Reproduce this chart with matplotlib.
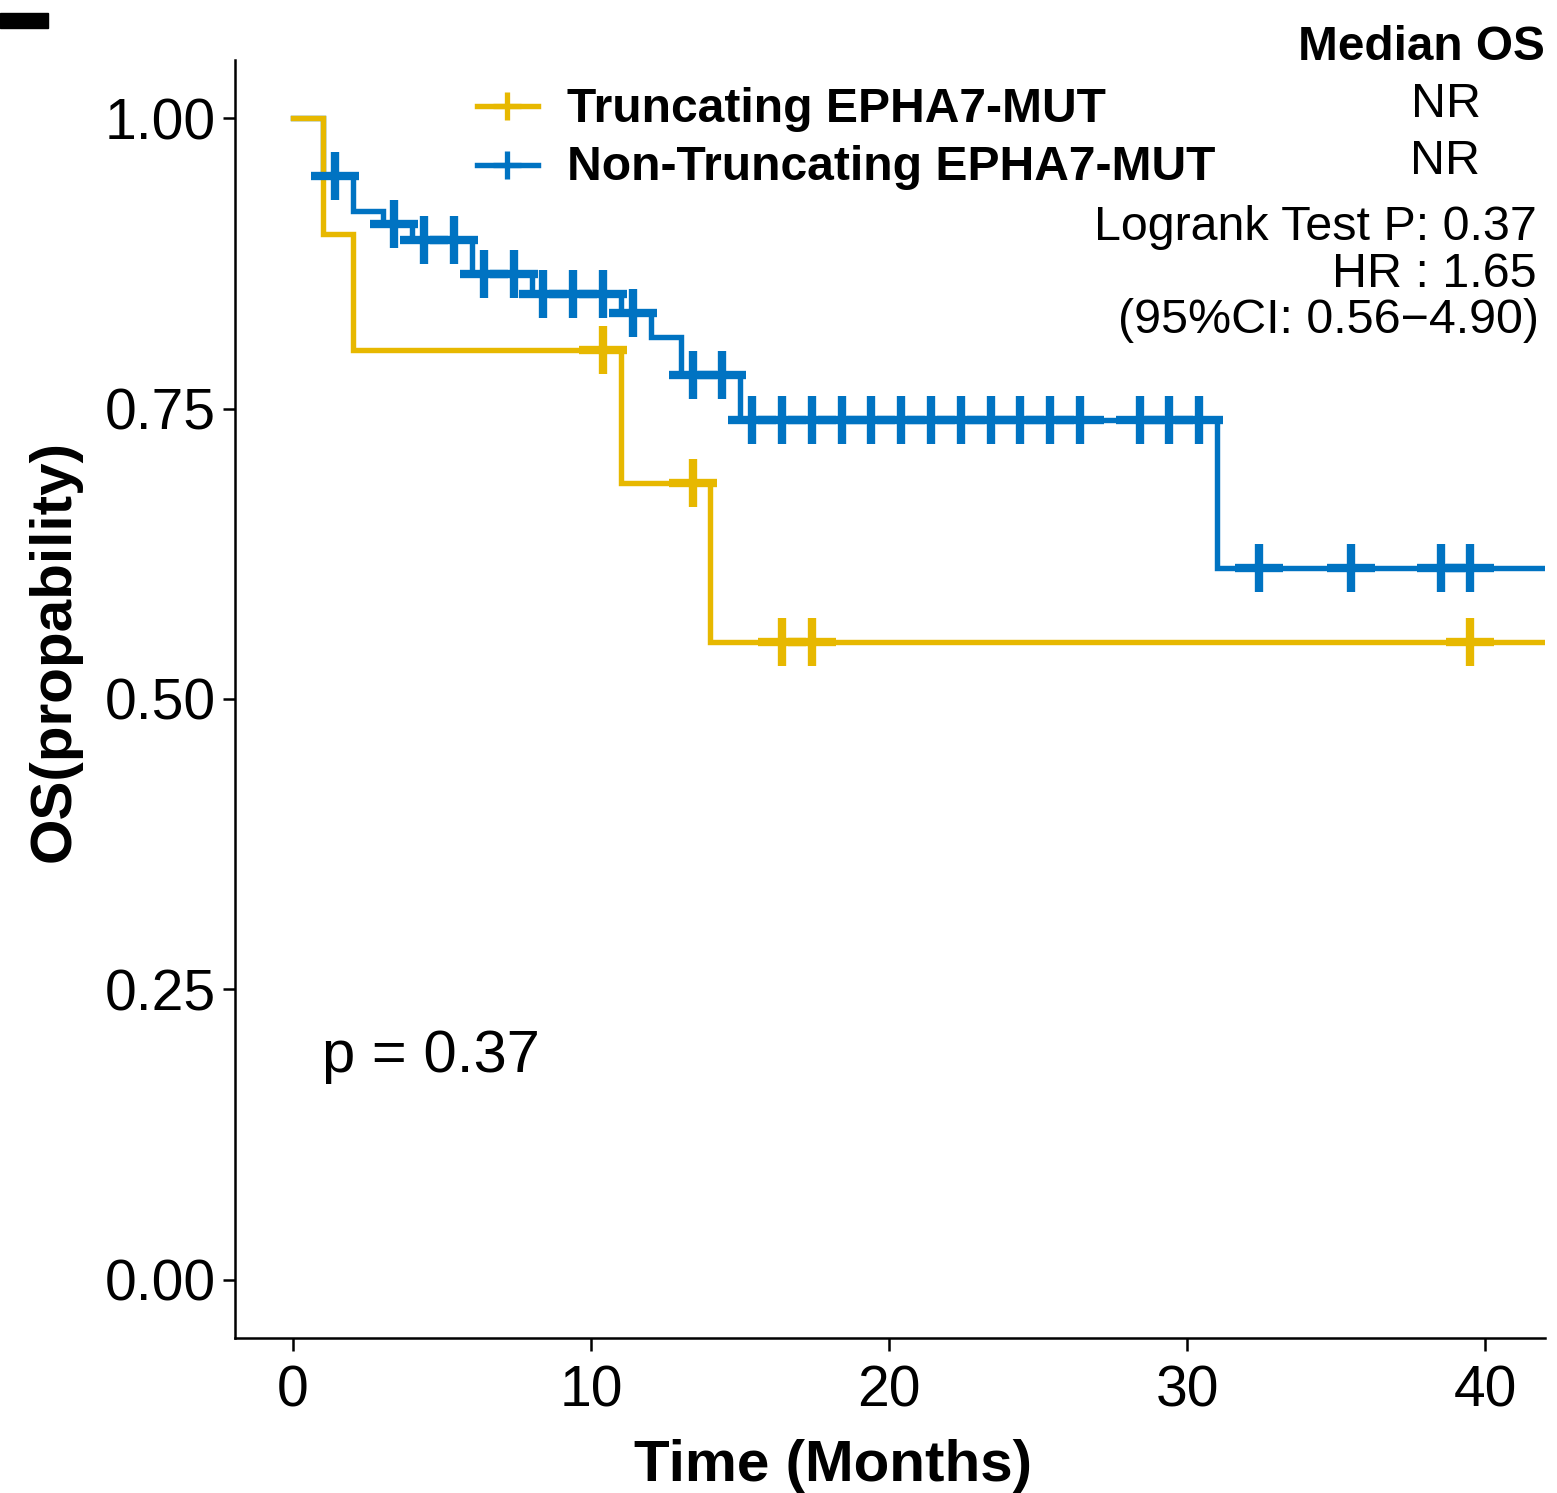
import numpy as np
import matplotlib
matplotlib.use("Agg")
import matplotlib.pyplot as plt
from matplotlib.patches import Rectangle

plt.rcParams['font.family'] = ['Liberation Sans', 'DejaVu Sans']

# ---------------- data ----------------
trunc_times = [0.0, 1.0, 2.0, 11.0, 14.0]
trunc_surv = [1.000, 0.900, 0.800, 0.686, 0.549]
trunc_censor = [10.4, 13.4, 16.4, 17.4, 39.5]

nontrunc_times = [0.0, 1.0, 2.0, 3.0, 4.0, 6.0, 8.0, 11.0, 12.0, 13.0, 15.0, 31.0]
nontrunc_surv = [1.000, 0.950, 0.920, 0.909, 0.895, 0.866, 0.849, 0.832, 0.812, 0.779, 0.740, 0.613]
nontrunc_censor = [1.4, 3.4, 4.4, 5.4, 6.4, 7.4, 8.4, 9.4, 10.4, 11.4, 13.4, 14.4,
                   15.4, 16.4, 17.4, 18.4, 19.4, 20.4, 21.4, 22.4, 23.4, 24.4, 25.4, 26.4,
                   28.4, 29.4, 30.4, 32.4, 35.5, 38.5, 39.5]

group_labels = ["Truncating EPHA7-MUT", "Non-Truncating EPHA7-MUT"]
group_colors = ["#E7B800", "#0073C2"]
median_os = ["NR", "NR"]
x_ticks = [0, 10, 20, 30, 40]
y_ticks = [0.00, 0.25, 0.50, 0.75, 1.00]
y_ticklabels = ["0.00", "0.25", "0.50", "0.75", "1.00"]

W, H = 1557, 1493
fig = plt.figure(figsize=(W / 100, H / 100), dpi=100)


def fx(px):
    return px / W


def fy(py):
    return 1 - py / H


ax = fig.add_axes([fx(235), fy(1338), fx(1545) - fx(235), fy(60) - fy(1338)])
ax.set_xlim(-1.95, 42.0)
ax.set_ylim(-0.05, 1.05)

x_end = 45.0
lw = 3.9


def step_value(times, surv, t):
    idx = np.searchsorted(np.asarray(times), np.asarray(t), side='right') - 1
    return np.asarray(surv)[idx]


series = [(trunc_times, trunc_surv, trunc_censor, group_colors[0], 3),
          (nontrunc_times, nontrunc_surv, nontrunc_censor, group_colors[1], 2)]

for times, surv, cens, col, z in series:
    tt = list(times) + [x_end]
    ss = list(surv) + [surv[-1]]
    ax.step(tt, ss, where='post', color=col, lw=lw, zorder=z, solid_joinstyle='miter')

for times, surv, cens, col, z in series:
    cy = step_value(times, surv, cens)
    ax.plot(cens, cy, linestyle='none', marker='+', markersize=35, mew=6.0,
            color=col, zorder=5)

# axes styling
for s in ['top', 'right']:
    ax.spines[s].set_visible(False)
for s in ['left', 'bottom']:
    ax.spines[s].set_linewidth(1.8)
ax.set_xticks(x_ticks)
ax.set_xticklabels([str(v) for v in x_ticks])
ax.set_yticks(y_ticks)
ax.set_yticklabels(y_ticklabels)
ax.tick_params(axis='both', labelsize=41, length=9, width=1.8, colors='black')
ax.tick_params(axis='x', pad=10)
ax.tick_params(axis='y', pad=5)

# axis titles
fig.text(fx(833), fy(1481), "Time (Months)", fontsize=42, fontweight='bold',
         ha='center', va='baseline')
fig.text(fx(70), fy(651), "OS(propability)", fontsize=42, fontweight='bold',
         ha='center', va='baseline', rotation=90, rotation_mode='anchor')

# legend (manual)
leg_y = [106, 165]
for lab, col, yy in zip(group_labels, group_colors, leg_y):
    fig.add_artist(plt.Line2D([fx(477), fx(538)], [fy(yy), fy(yy)], color=col, lw=lw))
    fig.add_artist(plt.Line2D([fx(507)], [fy(yy)], marker='+', markersize=20, mew=3.8,
                              color=col, linestyle='none'))
fig.text(fx(567), fy(122), group_labels[0], fontsize=34.6, fontweight='bold',
         ha='left', va='baseline')
fig.text(fx(567), fy(180), group_labels[1], fontsize=34.6, fontweight='bold',
         ha='left', va='baseline')

# median table and statistics
fig.text(fx(1545), fy(60), "Median OS", fontsize=34.4, fontweight='bold',
         ha='right', va='baseline')
fig.text(fx(1446), fy(117), median_os[0], fontsize=34.8, ha='center', va='baseline')
fig.text(fx(1445), fy(174), median_os[1], fontsize=34.8, ha='center', va='baseline')
fig.text(fx(1537), fy(240), "Logrank Test P: 0.37", fontsize=34.8, ha='right', va='baseline')
fig.text(fx(1537), fy(287), "HR : 1.65", fontsize=34.8, ha='right', va='baseline')
fig.text(fx(1539), fy(333), "(95%CI: 0.56\u22124.90)", fontsize=34.8, ha='right', va='baseline')

# p value inside the panel
fig.text(fx(322), fy(1072), "p = 0.37", fontsize=43, ha='left', va='baseline')

# clipped panel tag at the top-left corner
fig.add_artist(Rectangle((fx(0), fy(28)), fx(48), fy(13) - fy(28), color='black',
                         transform=fig.transFigure))

fig.savefig("out.png", dpi=100, facecolor='white')
